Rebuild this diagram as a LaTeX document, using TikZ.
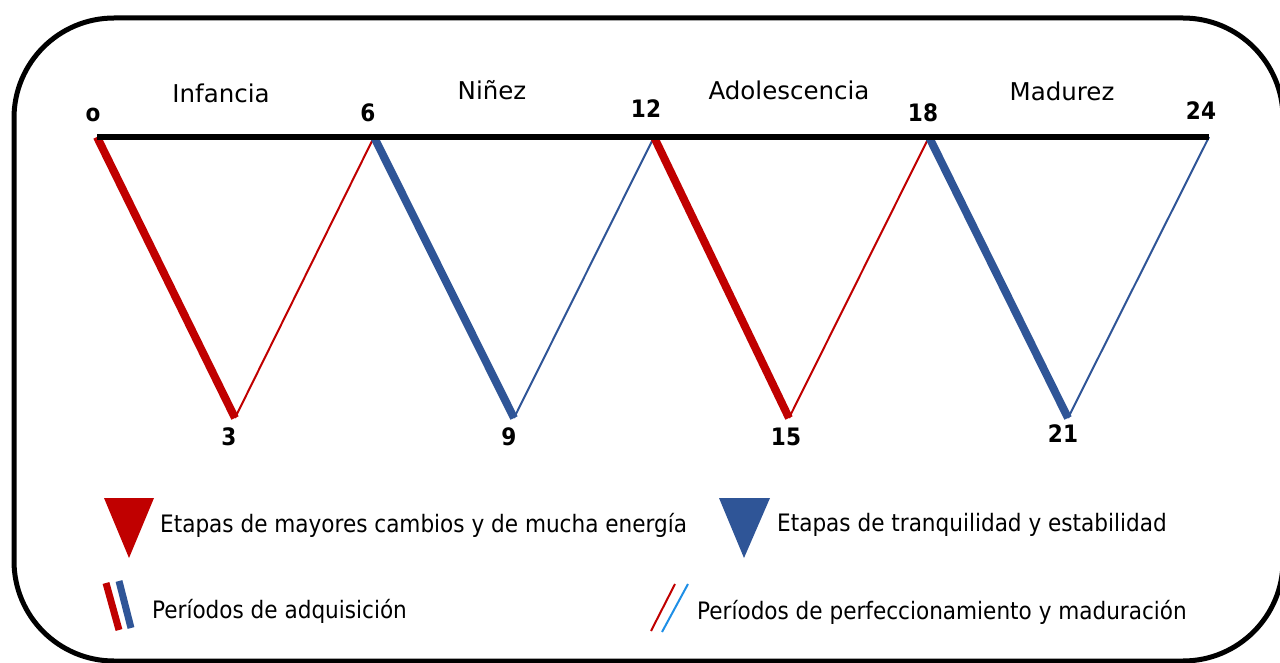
\documentclass[tikz,border=0pt]{standalone}
\usepackage{fontspec}
\setmainfont{DejaVu Sans Condensed}
\newfontfamily\widefont{DejaVu Sans}
\definecolor{cred}{HTML}{C00000}
\definecolor{cblue}{HTML}{2F5597}
\definecolor{lblue}{HTML}{1E8FE6}
\begin{document}
\begin{tikzpicture}[x=1pt,y=-1pt,
  thickred/.style={cred,line width=8pt},
  thinred/.style={cred,line width=2pt},
  thickblue/.style={cblue,line width=8pt},
  thinblue/.style={cblue,line width=2pt},
  num/.style={anchor=base,font=\fontsize{24}{26}\selectfont\bfseries,inner sep=0pt},
  ttl/.style={anchor=base,font=\widefont\fontsize{24.5}{26}\selectfont,inner sep=0pt},
  leg/.style={anchor=base west,font=\fontsize{24}{26}\selectfont,inner sep=0pt}]
\useasboundingbox (0,0) rectangle (1280,663);
\clip (0,0) rectangle (1280,663);
\draw[line width=5pt, rounded corners=100pt] (14,18) rectangle (1283,661);
% timeline points
\coordinate (p0) at (97,137);
\coordinate (p6) at (374,137);
\coordinate (p12) at (654,137);
\coordinate (p18) at (929,137);
\coordinate (p24) at (1209,137);
\coordinate (p3) at (235,418);
\coordinate (p9) at (514,418);
\coordinate (p15) at (789,418);
\coordinate (p21) at (1068,418);
\draw[thickred] (p0) -- (p3);
\draw[thinred] (p3) -- (p6);
\draw[thickblue] (p6) -- (p9);
\draw[thinblue] (p9) -- (p12);
\draw[thickred] (p12) -- (p15);
\draw[thinred] (p15) -- (p18);
\draw[thickblue] (p18) -- (p21);
\draw[thinblue] (p21) -- (p24);
\draw[line width=6pt] (p0) -- (p24);
% numbers
\node[num] (n0) at (93,122) {o};
\node[num] (n6) at (368,122) {6};
\node[num] (n12) at (646,118) {12};
\node[num] (n18) at (923,122) {18};
\node[num] (n24) at (1201,120) {24};
\node[num] (n3) at (229,445) {3};
\node[num] (n9) at (509,445) {9};
\node[num] (n15) at (786,445) {15};
\node[num] (n21) at (1063,442) {21};
% titles
\node[ttl] (t1) at (221,103) {Infancia};
\node[ttl] (t2) at (492,100) {Niñez};
\node[ttl] (t3) at (789,100) {Adolescencia};
\node[ttl] (t4) at (1062,101) {Madurez};
% legend
\fill[cred] (104,498) -- (154,498) -- (129,558) -- cycle;
\fill[cblue] (719,498) -- (770,498) -- (744,558) -- cycle;
\node[leg] (l1) at (160,532) {Etapas de mayores cambios y de mucha energía};
\node[leg] (l2) at (777,531) {Etapas de tranquilidad y estabilidad};
\draw[cred,line width=7pt] (106,583) -- (119,630);
\draw[cblue,line width=7pt] (119,581) -- (131,628);
\node[leg] (l3) at (152,618) {Períodos de adquisición};
\draw[cred,line width=2pt] (651,631) -- (675,584);
\draw[lblue,line width=2pt] (662,632) -- (688,584);
\node[leg] (l4) at (697,619) {Períodos de perfeccionamiento y maduración};
\end{tikzpicture}
\end{document}
